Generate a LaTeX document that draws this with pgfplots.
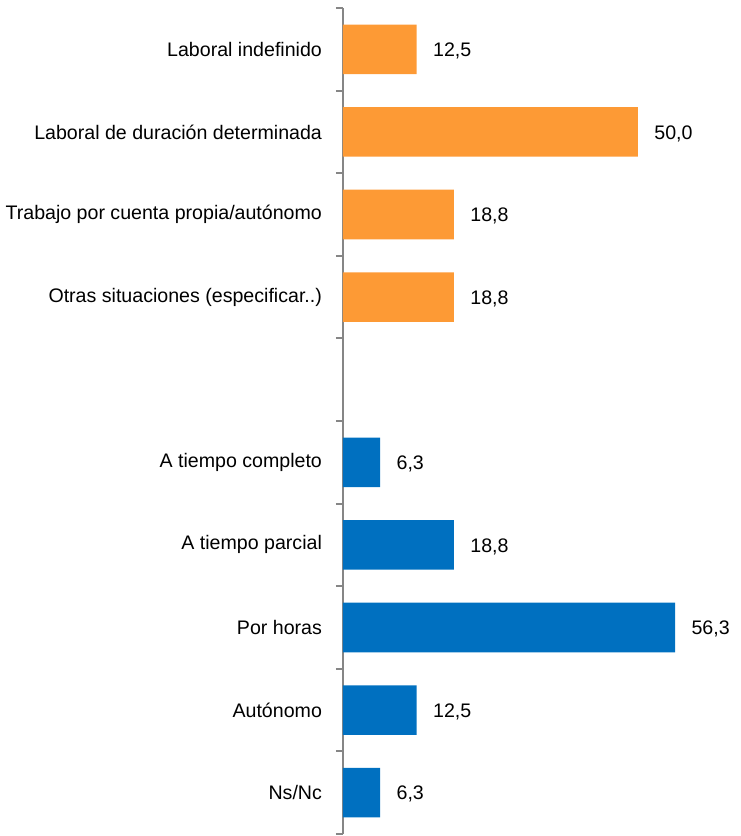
\documentclass[border=0pt]{standalone}
\usepackage{fontspec}
\setmainfont{Liberation Sans}
\usepackage{pgfplots}
\pgfplotsset{compat=1.18}

\definecolor{barorange}{HTML}{FD9A35}
\definecolor{barblue}{HTML}{0070C0}
\definecolor{axisgray}{HTML}{868686}

\begin{document}
\begin{tikzpicture}
\begin{axis}[
  at={(0,0)}, anchor=south west,
  scale only axis,
  width=198.5pt, height=413pt,
  xbar,
  bar width=0.6,
  xmin=0, xmax=67.3,
  ymin=-0.5, ymax=9.5,
  axis x line=none,
  axis y line=left,
  y axis line style={-, draw=axisgray, line width=1pt},
  ytick={0,1,2,3,4,6,7,8,9},
  yticklabels={Ns/Nc, Autónomo, Por horas, A tiempo parcial, A tiempo completo,
    Otras situaciones (especificar..), Trabajo por cuenta propia/autónomo,
    Laboral de duración determinada, Laboral indefinido},
  major tick length=0pt,
  minor ytick={-0.5,0.5,...,9.5},
  minor tick length=3.5pt,
  tick align=outside,
  minor y tick style={draw=axisgray, line width=1pt},
  yticklabel style={font=\fontsize{9.8}{11.8}\selectfont, xshift=-7pt},
  /pgf/number format/assume math mode=true,
  nodes near coords={\pgfmathprintnumber[fixed,fixed zerofill,precision=1,use comma,assume math mode=true]{\pgfplotspointmeta}},
  nodes near coords style={font=\fontsize{9.8}{11.8}\selectfont, anchor=west, xshift=4.7pt, yshift=-0.8pt},
  clip=false,
]
% situacion laboral
\addplot[fill=barorange, draw=none, bar shift=0pt]
  coordinates {(12.5,9) (50.0,8) (18.8,7) (18.8,6)};
% tipo de jornada
\addplot[fill=barblue, draw=none, bar shift=0pt]
  coordinates {(6.3,4) (18.8,3) (56.3,2) (12.5,1) (6.3,0)};
\end{axis}
\pgfresetboundingbox
\useasboundingbox (-171.5pt,-1pt) rectangle (198.5pt,417pt);
\end{tikzpicture}
\end{document}
